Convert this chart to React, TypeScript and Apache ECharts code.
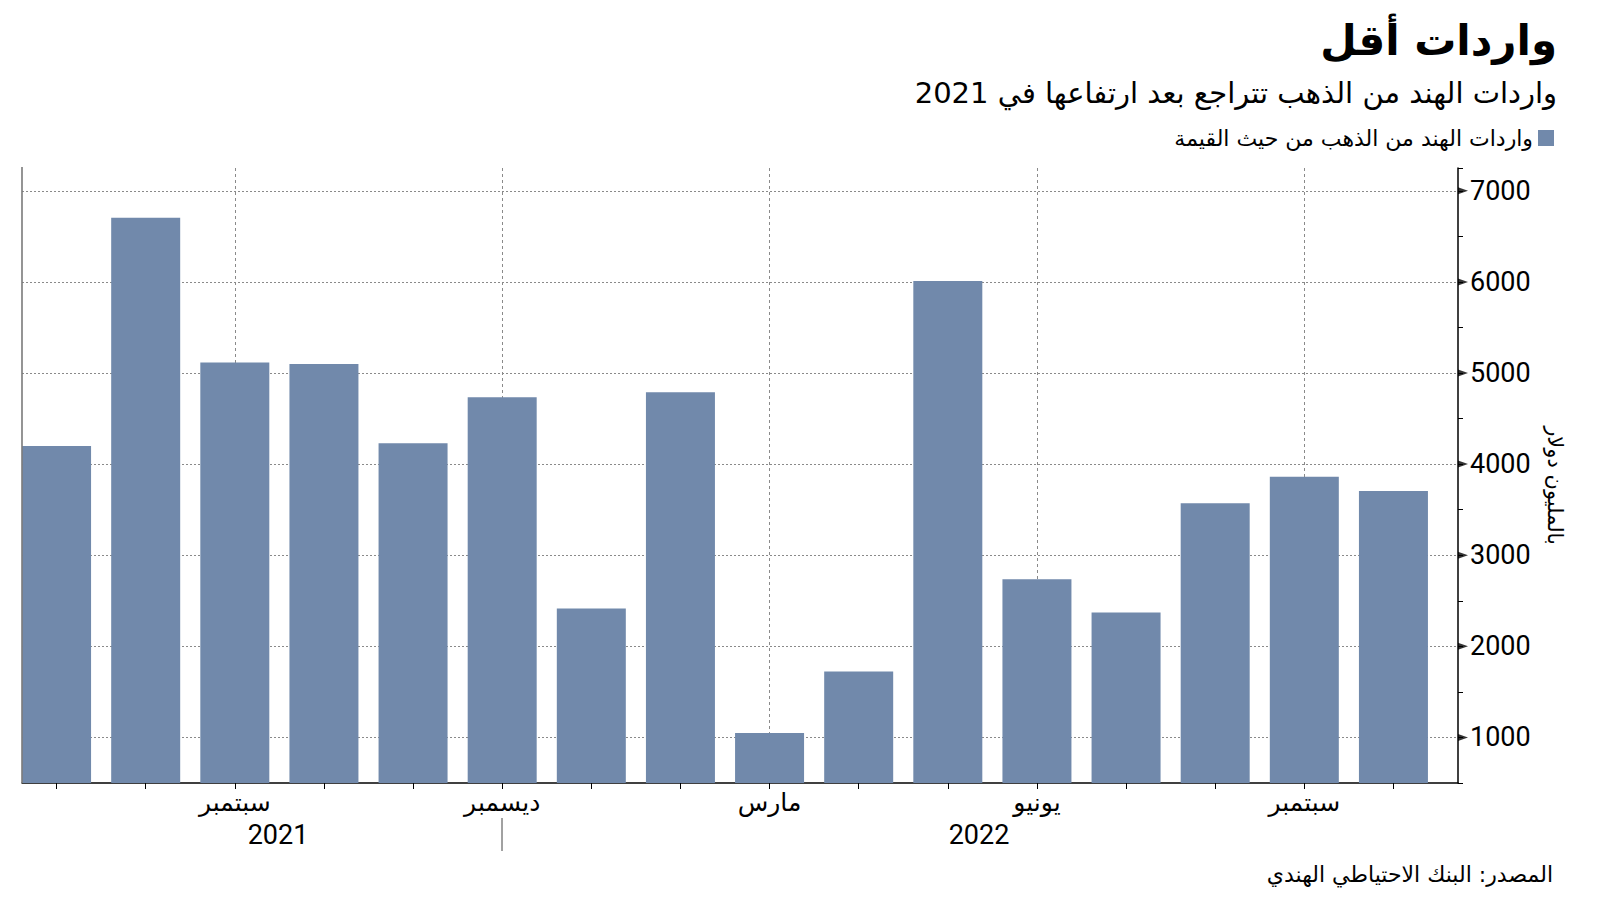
import React, { useEffect, useRef } from 'react';
import * as echarts from 'echarts';

// ---- Data ----
const months = [
  '2021-07', '2021-08', '2021-09', '2021-10', '2021-11', '2021-12',
  '2022-01', '2022-02', '2022-03', '2022-04', '2022-05', '2022-06',
  '2022-07', '2022-08', '2022-09', '2022-10',
];
const importValues = [4200, 6705, 5115, 5100, 4230, 4735, 2415, 4790, 1050, 1725, 6010, 2735, 2370, 3570, 3860, 3705];
const labeledMonths = ['2021-09', '2021-12', '2022-03', '2022-06', '2022-09'];
const monthNames: Record<string, string> = { '09': 'سبتمبر', '12': 'ديسمبر', '03': 'مارس', '06': 'يونيو' };
const majorTicks = [1000, 2000, 3000, 4000, 5000, 6000, 7000];
const yearLabels = ['2021', '2022'];

const seriesName = 'واردات الهند من الذهب من حيث القيمة';
const titleText = 'واردات أقل';
const subtitleText = 'واردات الهند من الذهب تتراجع بعد ارتفاعها في 2021';
const sourceText = 'المصدر: البنك الاحتياطي الهندي';
const yAxisName = 'بالمليون دولار';

const AR = "'DejaVu Sans', 'Noto Sans', sans-serif";
const NUM = "Roboto, 'Noto Sans', sans-serif";
const rtl = (s: string) => '\u202B' + s + '\u202C';

export default function App() {
  const ref = useRef<HTMLDivElement>(null);

  useEffect(() => {
    if (!ref.current) return;
    const chart = echarts.init(ref.current, undefined, { renderer: 'svg' });
    const barColor = '#7189ab';
    const gridColor = '#8a8a8a';

    const option: any = {
      animation: false,
      backgroundColor: '#ffffff',
      title: [
        {
          text: rtl(titleText), right: 43, top: 19, padding: 0,
          textStyle: { fontFamily: AR, fontWeight: 'bold', fontSize: 42, color: '#000' },
        },
        {
          text: rtl(subtitleText), right: 43, top: 78, padding: 0,
          textStyle: { fontFamily: AR, fontWeight: 'normal', fontSize: 29, color: '#000' },
        },
        {
          text: rtl(sourceText), right: 47, top: 863, padding: 0,
          textStyle: { fontFamily: AR, fontWeight: 'normal', fontSize: 22, color: '#000' },
        },
      ],
      legend: {
        right: 46, top: 127, padding: 0, align: 'right', icon: 'rect', itemWidth: 16, itemHeight: 16,
        selectedMode: false,
        data: [seriesName],
        formatter: (n: string) => rtl(n),
        textStyle: { fontFamily: AR, fontSize: 22, color: '#000' },
      },
      grid: [
        { left: 22, top: 168, width: 1436, height: 615 },
        { left: 12, top: 168, width: 1426, height: 615 },
      ],
      xAxis: [
        {
          gridIndex: 0, type: 'value', min: 0, max: 1,
          axisLine: { show: true, onZero: false, lineStyle: { color: '#000', width: 1.5 } },
          axisTick: { show: false }, axisLabel: { show: false }, splitLine: { show: false },
        },
        {
          gridIndex: 1, type: 'category', data: months, boundaryGap: true,
          axisLine: { show: false, onZero: false },
          axisTick: { show: true, alignWithLabel: true, interval: 0, length: 6, lineStyle: { color: '#000', width: 1 } },
          axisLabel: {
            interval: 0, margin: 7,
            formatter: (v: string) => (labeledMonths.indexOf(v) >= 0 ? monthNames[v.slice(5)] : ''),
            fontFamily: AR, fontSize: 25, color: '#000',
          },
          splitLine: { show: false },
        },
      ],
      yAxis: [
        {
          gridIndex: 0, type: 'value', position: 'right', min: 500, max: 7250, interval: 500,
          axisLine: { show: true, onZero: false, lineStyle: { color: '#000', width: 1.5 } },
          axisTick: { show: true, length: 5, lineStyle: { color: '#000', width: 1 } },
          axisLabel: {
            formatter: (v: number) => (v % 1000 === 0 ? String(v) : ''),
            fontFamily: NUM, fontSize: 27, color: '#000', margin: 12,
          },
          splitLine: { show: true, lineStyle: { color: ['rgba(0,0,0,0)', gridColor], type: [2, 2], width: 1 } },
          name: yAxisName, nameLocation: 'middle', nameGap: 86, nameRotate: -90,
          nameTextStyle: { fontFamily: AR, fontSize: 21, color: '#000', padding: [0, 0, 0, 20] },
        },
        { gridIndex: 1, type: 'value', min: 500, max: 7250, show: false, axisLine: { onZero: false }, splitLine: { show: false } },
      ],
      series: [
        {
          type: 'bar', name: seriesName, xAxisIndex: 1, yAxisIndex: 1,
          data: importValues, barWidth: 69, z: 3,
          itemStyle: { color: barColor },
          markLine: {
            silent: true, symbol: 'none', z: 1, animation: false,
            label: { show: false },
            lineStyle: { color: gridColor, type: [3, 3], width: 1 },
            data: labeledMonths.map((m) => ({ xAxis: m })),
          },
        },
        {
          type: 'scatter', xAxisIndex: 0, yAxisIndex: 0, silent: true, clip: false, z: 5,
          data: majorTicks.map((v) => [1, v]),
          symbol: 'triangle', symbolSize: [7, 10], symbolRotate: -90, symbolOffset: [5, 0],
          itemStyle: { color: '#000' },
        },
      ],
      graphic: [
        {
          type: 'line', z: 10, shape: { x1: 22, y1: 167, x2: 22, y2: 783 },
          style: { stroke: '#7a7a7a', lineWidth: 1.6 },
        },
        {
          type: 'text', x: 278, y: 835,
          style: { text: yearLabels[0], font: `27px ${NUM}`, fill: '#000', textAlign: 'center', textVerticalAlign: 'middle', align: 'center', verticalAlign: 'middle' },
        },
        {
          type: 'text', x: 979, y: 835,
          style: { text: yearLabels[1], font: `27px ${NUM}`, fill: '#000', textAlign: 'center', textVerticalAlign: 'middle', align: 'center', verticalAlign: 'middle' },
        },
        {
          type: 'line', shape: { x1: 502, y1: 818, x2: 502, y2: 851 },
          style: { stroke: '#444', lineWidth: 1 },
        },
      ],
    };

    chart.setOption(option);
    return () => chart.dispose();
  }, []);

  return <div ref={ref} style={{ position: 'fixed', left: 0, top: 0, width: 1600, height: 901 }} />;
}
